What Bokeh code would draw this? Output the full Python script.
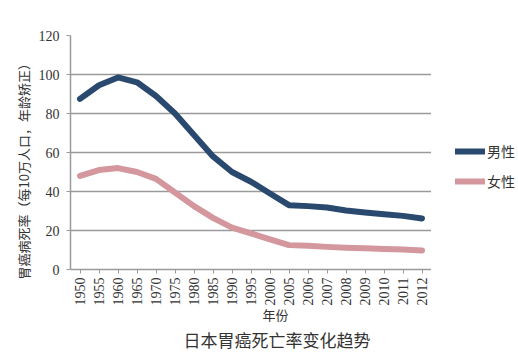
from bokeh.plotting import figure
from bokeh.layouts import row
from bokeh.models import Title, Legend, LegendItem, Range1d, FixedTicker
from bokeh.embed import file_html
from bokeh.resources import INLINE
from math import pi

years = ["1950", "1955", "1960", "1965", "1970", "1975", "1980", "1985", "1990", "1995",
         "2000", "2005", "2006", "2007", "2008", "2009", "2010", "2011", "2012"]
male = [87.5, 94.5, 98.5, 96, 89, 80, 69, 58, 50, 45, 39, 33, 32.5, 31.8, 30.3, 29.2, 28.3, 27.5, 26.2]
female = [48, 51, 52, 50, 46.5, 39.5, 32.5, 26.5, 21.5, 18.5, 15.5, 12.5, 12.2, 11.6, 11.2, 10.9, 10.5, 10.2, 9.8]
y_ticks = [0, 20, 40, 60, 80, 100, 120]
series_names = ["男性", "女性"]
colors = ["#29496f", "#d3979d"]

p = figure(width=431, height=357, x_range=years, y_range=Range1d(0, 120),
           output_backend="svg", toolbar_location=None,
           min_border_left=70, min_border_right=0, min_border_top=35, min_border_bottom=0)
p.outline_line_color = None

p.line(years, male, line_color=colors[0], line_width=6, line_join="round", line_cap="round")
p.line(years, female, line_color=colors[1], line_width=6, line_join="round", line_cap="round")

p.xgrid.grid_line_color = None
p.ygrid.grid_line_color = "#9a9a9a"
p.ygrid.grid_line_width = 1.5
p.yaxis.ticker = FixedTicker(ticks=y_ticks)
p.yaxis.axis_line_color = "#9a9a9a"
p.yaxis.axis_line_width = 1.5
p.yaxis.major_tick_line_color = "#9a9a9a"
p.yaxis.major_tick_out = 4
p.yaxis.major_tick_in = 0
p.yaxis.minor_tick_line_color = None
p.yaxis.major_label_text_font = "Liberation Serif"
p.yaxis.major_label_text_font_size = "14px"
p.yaxis.major_label_text_color = "#333333"
p.yaxis.major_label_standoff = 7

p.xaxis.axis_line_color = "#9a9a9a"
p.xaxis.axis_line_width = 1.5
p.xaxis.major_tick_line_color = "#9a9a9a"
p.xaxis.major_tick_out = 4
p.xaxis.major_tick_in = 0
p.xaxis.major_label_standoff = 4
p.xaxis.major_label_orientation = pi / 2
p.xaxis.major_label_text_font = "Liberation Serif"
p.xaxis.major_label_text_font_size = "14px"
p.xaxis.major_label_text_color = "#333333"
p.x_range.range_padding = 0

ylab = Title(text="胃癌病死率（每10万人口，年龄矫正）", align="left", offset=-10, standoff=6,
             text_font="Noto Sans CJK SC", text_font_size="13px", text_font_style="normal",
             text_color="#333333")
p.add_layout(ylab, "left")

t1 = Title(text="年份", align="left", offset=192, standoff=-11, text_font="Noto Sans CJK SC",
           text_font_size="13px", text_font_style="normal", text_color="#333333")
t2 = Title(text="日本胃癌死亡率变化趋势", align="left", offset=113, standoff=12, text_font="Noto Sans CJK SC",
           text_font_size="17px", text_font_style="normal", text_color="#333333")
p.add_layout(t1, "below")
p.add_layout(t2, "below")

# legend panel: same series, drawn outside its visible range, only to feed the legend
q = figure(width=87, height=357, x_range=years, y_range=Range1d(1000, 1001),
           output_backend="svg", toolbar_location=None,
           min_border=0, x_axis_type=None, y_axis_type=None)
q.outline_line_color = None
q.xgrid.grid_line_color = None
q.ygrid.grid_line_color = None
lr = [q.line(years, vals, line_color=c, line_width=6, line_cap="round")
      for vals, c in zip([male, female], colors)]
legend = Legend(items=[LegendItem(label=n, renderers=[r]) for n, r in zip(series_names, lr)],
                location=(24, 78), border_line_color=None, background_fill_alpha=0,
                label_text_font="Noto Sans CJK SC", label_text_font_size="14px",
                label_text_color="#333333", glyph_width=30, glyph_height=20, spacing=10,
                label_standoff=2, padding=0, margin=0)
q.add_layout(legend, "center")

layout = row(p, q, spacing=0)
open("out.html", "w").write(file_html(layout, INLINE))
